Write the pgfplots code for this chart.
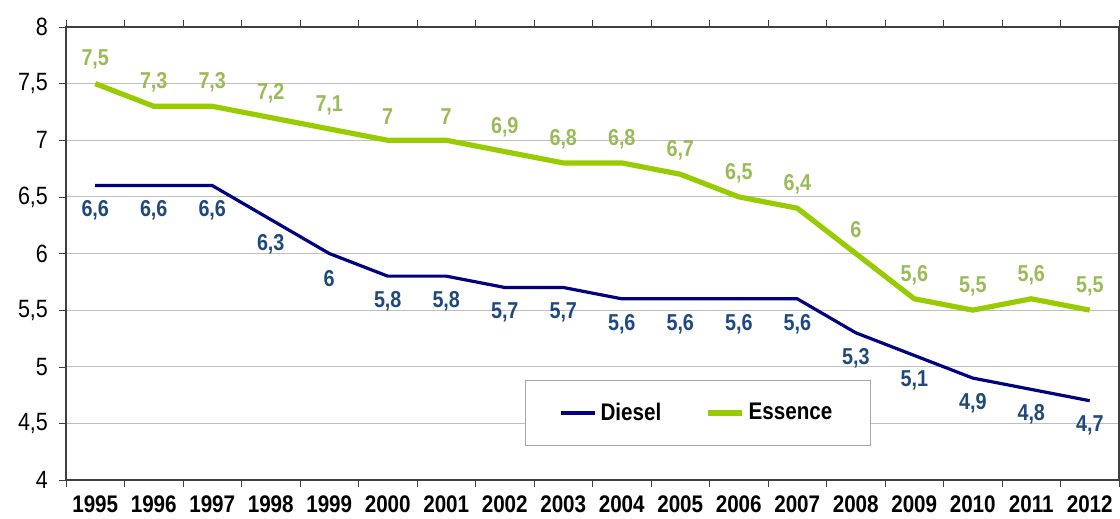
\documentclass[border=0pt]{standalone}
\usepackage{fontspec}
\setmainfont{Liberation Sans}[FakeStretch=0.86]
\usepackage{pgfplots}
\pgfplotsset{compat=1.18}
\definecolor{dieselline}{HTML}{000080}
\definecolor{essenceline}{HTML}{99CC00}
\definecolor{diesellab}{HTML}{1F497D}
\definecolor{essencelab}{HTML}{9BBB59}

\begin{document}
\begin{tikzpicture}
\begin{axis}[
  name=ax,
  scale only axis,
  width=526.5pt, height=226.5pt,
  xmin=-0.5, xmax=17.5, ymin=4, ymax=8,
  xtick={0,...,17},
  xticklabels={1995,1996,1997,1998,1999,2000,2001,2002,2003,2004,2005,2006,2007,2008,2009,2010,2011,2012},
  minor xtick={-0.5,0.5,...,17.5},
  ytick={4,4.5,...,8},
  tick align=outside,
  major tick length=3.5pt, minor tick length=3.5pt,
  x tick style={draw=none},
  minor x tick style={draw=black!75},
  y tick style={draw=black!75},
  xticklabel style={font=\fontsize{12}{14}\selectfont\bfseries, yshift=-1pt},
  yticklabel style={font=\fontsize{12.5}{14}\selectfont, xshift=-2pt, /pgf/number format/use comma},
  /pgf/number format/assume math mode=true,
  ymajorgrids, grid style={black!25, line width=0.6pt},
  axis line style={black!75, line width=0.7pt},
  clip=false,
  legend style={at={(axis description cs:0.6,0.148)}, anchor=center,
    legend columns=2, draw=black!35, line width=0.6pt,
    inner xsep=17pt, inner ysep=9pt,
    font=\fontsize{12}{14}\selectfont\bfseries,
    /tikz/every even column/.append style={column sep=20pt}},
  legend image code/.code={\draw[#1] (0cm,0cm) -- (0.6cm,0cm);},
]
\addplot[dieselline, line width=1.6pt,
  nodes near coords={\pgfmathprintnumber[use comma]{\pgfplotspointmeta}},
  every node near coord/.append style={font=\fontsize{11.5}{13}\selectfont\bfseries, text=diesellab, anchor=center, yshift=-12.5pt}]
  coordinates {(0,6.6) (1,6.6) (2,6.6) (3,6.3) (4,6.0) (5,5.8) (6,5.8) (7,5.7) (8,5.7) (9,5.6) (10,5.6) (11,5.6) (12,5.6) (13,5.3) (14,5.1) (15,4.9) (16,4.8) (17,4.7)};
\addlegendentry{Diesel}
\addplot[essenceline, line width=2.6pt,
  nodes near coords={\pgfmathprintnumber[use comma]{\pgfplotspointmeta}},
  every node near coord/.append style={font=\fontsize{11.5}{13}\selectfont\bfseries, text=essencelab, anchor=center, yshift=12pt}]
  coordinates {(0,7.5) (1,7.3) (2,7.3) (3,7.2) (4,7.1) (5,7.0) (6,7.0) (7,6.9) (8,6.8) (9,6.8) (10,6.7) (11,6.5) (12,6.4) (13,6.0) (14,5.6) (15,5.5) (16,5.6) (17,5.5)};
\addlegendentry{Essence}
\end{axis}
\pgfresetboundingbox
\path[use as bounding box] ([xshift=-33pt,yshift=-19.5pt]ax.south west) rectangle ([xshift=0.5pt,yshift=13.5pt]ax.north east);
\end{tikzpicture}
\end{document}
